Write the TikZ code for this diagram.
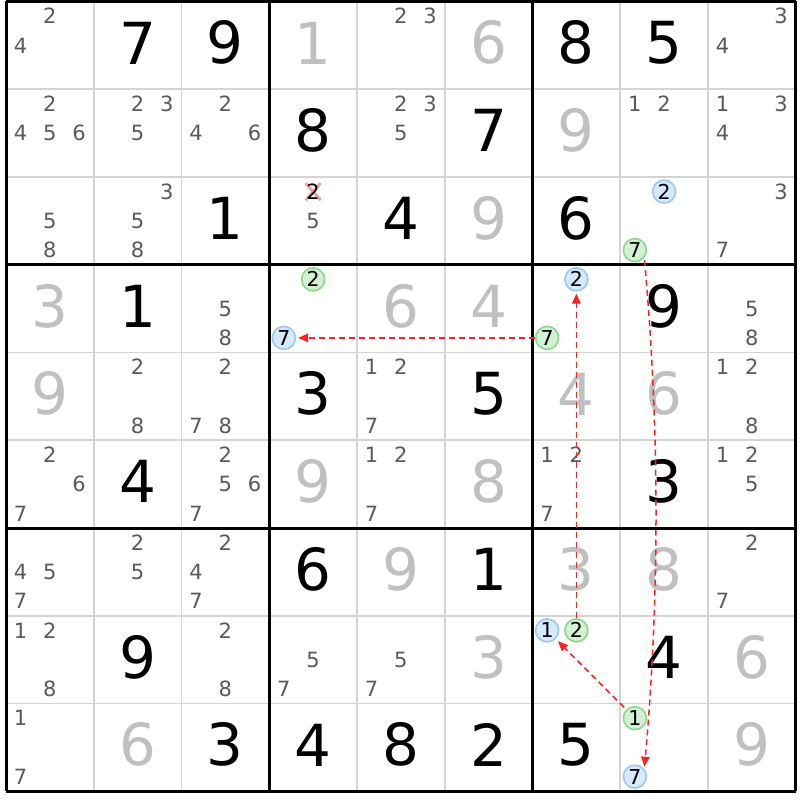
\documentclass[tikz,border=0pt]{standalone}
\usepackage{fontspec}
\setmainfont{DejaVu Sans}
\usetikzlibrary{arrows.meta}
\definecolor{pencil}{HTML}{5A5A5A}
\definecolor{solvedgrey}{HTML}{C0C0C0}
\definecolor{thingrid}{HTML}{D4D4D4}
\definecolor{bfill}{HTML}{D6E8FB}
\definecolor{bline}{HTML}{9CC8F4}
\definecolor{gfill}{HTML}{D4F0D4}
\definecolor{gline}{HTML}{8CD88C}
\definecolor{xpink}{HTML}{F4A0A8}
\definecolor{arrowred}{HTML}{FF2020}
\newcommand\givn[3]{\node[givenstyle] (n#1#2) at ({6+(#2-0.5)*87.75},{1.5+(#1-0.5)*87.75-2.5}) {#3};}
\newcommand\solv[3]{\node[solvedstyle] (n#1#2) at ({6+(#2-0.5)*87.75},{1.5+(#1-0.5)*87.75-2.5}) {#3};}
\newcommand\candxy[3]{\pgfmathsetmacro\px{6+(#2-1)*87.75+mod(#3-1,3)*29.25+14.625}\pgfmathsetmacro\py{1.5+(#1-1)*87.75+floor((#3-1)/3)*29.25+14.625}}
\newcommand\cand[3]{\candxy{#1}{#2}{#3}\node[candstyle] (p#1#2#3) at (\px,\py) {#3};}
\newcommand\cands[3]{\foreach \d in {#3}{\cand{#1}{#2}{\d}}}
\newcommand\markB[3]{\candxy{#1}{#2}{#3}\node[markb] (cb#1#2#3) at (\px,\py) {#3};}
\newcommand\markG[3]{\candxy{#1}{#2}{#3}\node[markg] (cg#1#2#3) at (\px,\py) {#3};}
\begin{document}
\begin{tikzpicture}[x=1pt,y=-1pt,
  givenstyle/.style={inner sep=0pt, font=\fontsize{58}{58}\selectfont, text=black},
  solvedstyle/.style={givenstyle, text=solvedgrey},
  candstyle/.style={inner sep=0pt, font=\fontsize{21}{21}\selectfont, text=pencil},
  markb/.style={circle, inner sep=0pt, minimum size=23pt, draw=bline, fill=bfill, line width=1.6pt, font=\fontsize{20.5}{20.5}\selectfont, text=black},
  markg/.style={markb, draw=gline, fill=gfill},
  thinline/.style={draw=thingrid, line width=1.6pt},
  thickline/.style={draw=black, line width=3pt, line cap=square},
  linkarrow/.style={draw=arrowred, line width=1.5pt, dash pattern=on 6pt off 4pt, -{Triangle[length=10pt,width=8.5pt]}, shorten >=2pt},
  xmark/.style={draw=xpink, line width=3pt}]
\useasboundingbox (0,0) rectangle (800,800);
\fill[white] (0,0) rectangle (800,800);
% grid
\foreach \i in {1,2,4,5,7,8}{
  \draw[thinline] ({6+\i*87.75},1.5) -- ({6+\i*87.75},791.25);
  \draw[thinline] (6,{1.5+\i*87.75}) -- (795.75,{1.5+\i*87.75});
}
\foreach \i in {0,3,6,9}{
  \draw[thickline] ({6+\i*87.75},1.5) -- ({6+\i*87.75},791.25);
  \draw[thickline] (6,{1.5+\i*87.75}) -- (795.75,{1.5+\i*87.75});
}
% given digits
\givn{1}{2}{7}\givn{1}{3}{9}\givn{1}{7}{8}\givn{1}{8}{5}
\givn{2}{4}{8}\givn{2}{6}{7}
\givn{3}{3}{1}\givn{3}{5}{4}\givn{3}{7}{6}
\givn{4}{2}{1}\givn{4}{8}{9}
\givn{5}{4}{3}\givn{5}{6}{5}
\givn{6}{2}{4}\givn{6}{8}{3}
\givn{7}{4}{6}\givn{7}{6}{1}
\givn{8}{2}{9}\givn{8}{8}{4}
\givn{9}{3}{3}\givn{9}{4}{4}\givn{9}{5}{8}\givn{9}{6}{2}\givn{9}{7}{5}
% solved digits
\solv{1}{4}{1}\solv{1}{6}{6}
\solv{2}{7}{9}
\solv{3}{6}{9}
\solv{4}{1}{3}\solv{4}{5}{6}\solv{4}{6}{4}
\solv{5}{1}{9}\solv{5}{7}{4}\solv{5}{8}{6}
\solv{6}{4}{9}\solv{6}{6}{8}
\solv{7}{5}{9}\solv{7}{7}{3}\solv{7}{8}{8}
\solv{8}{6}{3}\solv{8}{9}{6}
\solv{9}{2}{6}\solv{9}{9}{9}
% candidates
\cands{1}{1}{2,4}\cands{1}{5}{2,3}\cands{1}{9}{3,4}
\cands{2}{1}{2,4,5,6}\cands{2}{2}{2,3,5}\cands{2}{3}{2,4,6}\cands{2}{5}{2,3,5}\cands{2}{8}{1,2}\cands{2}{9}{1,3,4}
\cands{3}{1}{5,8}\cands{3}{2}{3,5,8}\cands{3}{4}{5}\cands{3}{9}{3,7}
\cands{4}{3}{5,8}\cands{4}{9}{5,8}
\cands{5}{2}{2,8}\cands{5}{3}{2,7,8}\cands{5}{5}{1,2,7}\cands{5}{9}{1,2,8}
\cands{6}{1}{2,6,7}\cands{6}{3}{2,5,6,7}\cands{6}{5}{1,2,7}\cands{6}{7}{1,2,7}\cands{6}{9}{1,2,5}
\cands{7}{1}{4,5,7}\cands{7}{2}{2,5}\cands{7}{3}{2,4,7}\cands{7}{9}{2,7}
\cands{8}{1}{1,2,8}\cands{8}{3}{2,8}\cands{8}{4}{5,7}\cands{8}{5}{5,7}
\cands{9}{1}{1,7}
% eliminated candidate
\candxy{3}{4}{2}
\coordinate (x342) at (\px,\py);
\draw[xmark] ([shift={(-7.5,-8.5)}]x342) -- ([shift={(7.5,8.5)}]x342);
\draw[xmark] ([shift={(-7.5,8.5)}]x342) -- ([shift={(7.5,-8.5)}]x342);
\node[candstyle, text=black] (p342) at (x342) {2};
% marked candidates
\markB{3}{8}{2}\markG{3}{8}{7}
\markG{4}{4}{2}\markB{4}{4}{7}
\markB{4}{7}{2}\markG{4}{7}{7}
\markB{8}{7}{1}\markG{8}{7}{2}
\markG{9}{8}{1}\markB{9}{8}{7}
% links
\draw[linkarrow] (cg477) -- (cb447);
\draw[linkarrow] (cg872) -- (cb472);
\draw[linkarrow, shorten <=3pt, shorten >=3pt] (cg981) -- (cb871);
\draw[linkarrow, shorten <=2pt] (cg387.-40) .. controls (659.7,427.7) and (659.7,596.3) .. (cb987.40);
\end{tikzpicture}
\end{document}
